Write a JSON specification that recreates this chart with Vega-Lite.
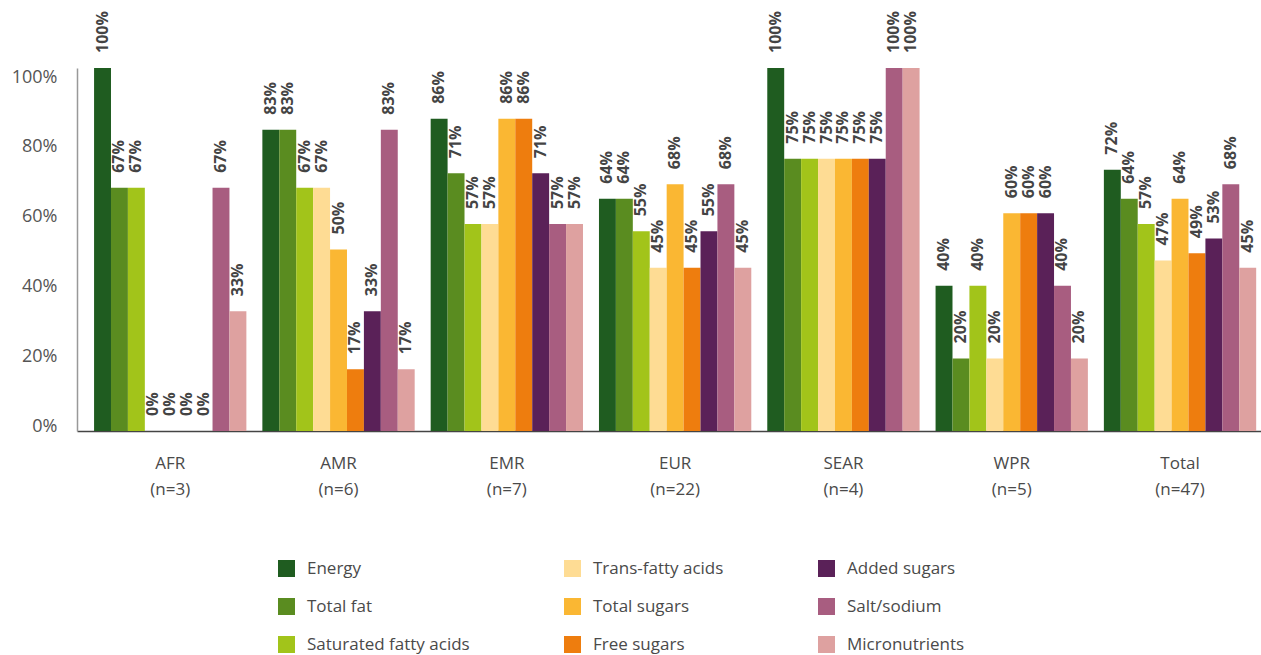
{
  "$schema": "https://vega.github.io/schema/vega-lite/v6.json",
  "width": 1184,
  "height": 363,
  "autosize": {"type": "none"},
  "padding": {"left": 77, "top": 68, "right": 0, "bottom": 224},
  "background": "white",
  "config": {"view": {"stroke": null}, "font": "Open Sans"},
  "data": {
    "values": [
      {"region": "AFR (n=3)", "nutrient": "Energy", "value": 100},
      {"region": "AFR (n=3)", "nutrient": "Total fat", "value": 67},
      {"region": "AFR (n=3)", "nutrient": "Saturated fatty acids", "value": 67},
      {"region": "AFR (n=3)", "nutrient": "Trans-fatty acids", "value": 0},
      {"region": "AFR (n=3)", "nutrient": "Total sugars", "value": 0},
      {"region": "AFR (n=3)", "nutrient": "Free sugars", "value": 0},
      {"region": "AFR (n=3)", "nutrient": "Added sugars", "value": 0},
      {"region": "AFR (n=3)", "nutrient": "Salt/sodium", "value": 67},
      {"region": "AFR (n=3)", "nutrient": "Micronutrients", "value": 33},
      {"region": "AMR (n=6)", "nutrient": "Energy", "value": 83},
      {"region": "AMR (n=6)", "nutrient": "Total fat", "value": 83},
      {"region": "AMR (n=6)", "nutrient": "Saturated fatty acids", "value": 67},
      {"region": "AMR (n=6)", "nutrient": "Trans-fatty acids", "value": 67},
      {"region": "AMR (n=6)", "nutrient": "Total sugars", "value": 50},
      {"region": "AMR (n=6)", "nutrient": "Free sugars", "value": 17},
      {"region": "AMR (n=6)", "nutrient": "Added sugars", "value": 33},
      {"region": "AMR (n=6)", "nutrient": "Salt/sodium", "value": 83},
      {"region": "AMR (n=6)", "nutrient": "Micronutrients", "value": 17},
      {"region": "EMR (n=7)", "nutrient": "Energy", "value": 86},
      {"region": "EMR (n=7)", "nutrient": "Total fat", "value": 71},
      {"region": "EMR (n=7)", "nutrient": "Saturated fatty acids", "value": 57},
      {"region": "EMR (n=7)", "nutrient": "Trans-fatty acids", "value": 57},
      {"region": "EMR (n=7)", "nutrient": "Total sugars", "value": 86},
      {"region": "EMR (n=7)", "nutrient": "Free sugars", "value": 86},
      {"region": "EMR (n=7)", "nutrient": "Added sugars", "value": 71},
      {"region": "EMR (n=7)", "nutrient": "Salt/sodium", "value": 57},
      {"region": "EMR (n=7)", "nutrient": "Micronutrients", "value": 57},
      {"region": "EUR (n=22)", "nutrient": "Energy", "value": 64},
      {"region": "EUR (n=22)", "nutrient": "Total fat", "value": 64},
      {"region": "EUR (n=22)", "nutrient": "Saturated fatty acids", "value": 55},
      {"region": "EUR (n=22)", "nutrient": "Trans-fatty acids", "value": 45},
      {"region": "EUR (n=22)", "nutrient": "Total sugars", "value": 68},
      {"region": "EUR (n=22)", "nutrient": "Free sugars", "value": 45},
      {"region": "EUR (n=22)", "nutrient": "Added sugars", "value": 55},
      {"region": "EUR (n=22)", "nutrient": "Salt/sodium", "value": 68},
      {"region": "EUR (n=22)", "nutrient": "Micronutrients", "value": 45},
      {"region": "SEAR (n=4)", "nutrient": "Energy", "value": 100},
      {"region": "SEAR (n=4)", "nutrient": "Total fat", "value": 75},
      {"region": "SEAR (n=4)", "nutrient": "Saturated fatty acids", "value": 75},
      {"region": "SEAR (n=4)", "nutrient": "Trans-fatty acids", "value": 75},
      {"region": "SEAR (n=4)", "nutrient": "Total sugars", "value": 75},
      {"region": "SEAR (n=4)", "nutrient": "Free sugars", "value": 75},
      {"region": "SEAR (n=4)", "nutrient": "Added sugars", "value": 75},
      {"region": "SEAR (n=4)", "nutrient": "Salt/sodium", "value": 100},
      {"region": "SEAR (n=4)", "nutrient": "Micronutrients", "value": 100},
      {"region": "WPR (n=5)", "nutrient": "Energy", "value": 40},
      {"region": "WPR (n=5)", "nutrient": "Total fat", "value": 20},
      {"region": "WPR (n=5)", "nutrient": "Saturated fatty acids", "value": 40},
      {"region": "WPR (n=5)", "nutrient": "Trans-fatty acids", "value": 20},
      {"region": "WPR (n=5)", "nutrient": "Total sugars", "value": 60},
      {"region": "WPR (n=5)", "nutrient": "Free sugars", "value": 60},
      {"region": "WPR (n=5)", "nutrient": "Added sugars", "value": 60},
      {"region": "WPR (n=5)", "nutrient": "Salt/sodium", "value": 40},
      {"region": "WPR (n=5)", "nutrient": "Micronutrients", "value": 20},
      {"region": "Total (n=47)", "nutrient": "Energy", "value": 72},
      {"region": "Total (n=47)", "nutrient": "Total fat", "value": 64},
      {"region": "Total (n=47)", "nutrient": "Saturated fatty acids", "value": 57},
      {"region": "Total (n=47)", "nutrient": "Trans-fatty acids", "value": 47},
      {"region": "Total (n=47)", "nutrient": "Total sugars", "value": 64},
      {"region": "Total (n=47)", "nutrient": "Free sugars", "value": 49},
      {"region": "Total (n=47)", "nutrient": "Added sugars", "value": 53},
      {"region": "Total (n=47)", "nutrient": "Salt/sodium", "value": 68},
      {"region": "Total (n=47)", "nutrient": "Micronutrients", "value": 45}
    ]
  },
  "encoding": {
    "x": {
      "field": "region",
      "type": "nominal",
      "sort": null,
      "scale": {"paddingInner": 0.095, "paddingOuter": 0.065, "align": 0.78},
      "axis": {
        "title": null,
        "labelAngle": 0,
        "labelExpr": "split(datum.value, ' ')",
        "labelFont": "Open Sans",
        "labelFontSize": 17,
        "labelColor": "#4a4a4a",
        "labelLineHeight": 26,
        "labelPadding": 24,
        "labelBaseline": "top",
        "ticks": false,
        "domainColor": "#444444",
        "domainWidth": 1.5
      }
    },
    "xOffset": {
      "field": "nutrient",
      "type": "nominal",
      "sort": ["Energy", "Total fat", "Saturated fatty acids", "Trans-fatty acids", "Total sugars", "Free sugars", "Added sugars", "Salt/sodium", "Micronutrients"],
      "scale": {"paddingInner": 0, "paddingOuter": 0}
    }
  },
  "layer": [
    {
      "mark": {"type": "bar"},
      "encoding": {
        "y": {
          "field": "value",
          "type": "quantitative",
          "scale": {"domain": [0, 100], "nice": false},
          "axis": {
            "title": null,
            "labels": false,
            "ticks": false,
            "grid": false,
            "domainColor": "#999999",
            "domainWidth": 1.5,
            "orient": "left"
          }
        },
        "color": {
          "field": "nutrient",
          "type": "nominal",
          "scale": {
            "domain": ["Energy", "Total fat", "Saturated fatty acids", "Trans-fatty acids", "Total sugars", "Free sugars", "Added sugars", "Salt/sodium", "Micronutrients"],
            "range": ["#1f5c20", "#5a8c20", "#a2c41a", "#fedc94", "#fab733", "#ee7d0e", "#5a2158", "#a85d80", "#dea1a0"]
          },
          "legend": {
            "title": null,
            "orient": "none",
            "legendX": 201,
            "legendY": 492,
            "columns": 3,
            "columnPadding": 94,
            "rowPadding": 20,
            "symbolType": "square",
            "symbolSize": 289,
            "symbolStrokeWidth": 0,
            "symbolOpacity": 1,
            "labelFont": "Open Sans",
            "labelFontSize": 17,
            "labelColor": "#4a4a4a",
            "labelOffset": 12,
            "labelLimit": 300
          }
        }
      }
    },
    {
      "mark": {
        "type": "text",
        "angle": 270,
        "align": "left",
        "baseline": "middle",
        "dx": 15,
        "font": "Open Sans",
        "fontWeight": "bold",
        "fontSize": 16,
        "color": "#444444",
        "text": {"expr": "datum.value + '%'"}
      },
      "encoding": {
        "y": {
          "field": "value",
          "type": "quantitative",
          "scale": {"domain": [0, 100], "nice": false},
          "axis": null
        },
        "detail": {"field": "nutrient"}
      }
    },
    {
      "mark": {"type": "rule", "opacity": 0},
      "encoding": {
        "y": {
          "field": "value",
          "type": "quantitative",
          "scale": {"domain": [-1.43, 102.58], "nice": false, "zero": false},
          "axis": {
            "title": null,
            "orient": "left",
            "values": [0, 20, 40, 60, 80, 100],
            "labelExpr": "datum.value + '%'",
            "labelFont": "Open Sans",
            "labelFontSize": 18,
            "labelColor": "#555555",
            "labelPadding": 20,
            "ticks": false,
            "grid": false,
            "domain": false
          }
        }
      }
    }
  ],
  "resolve": {"scale": {"y": "independent"}, "axis": {"y": "independent"}}
}
